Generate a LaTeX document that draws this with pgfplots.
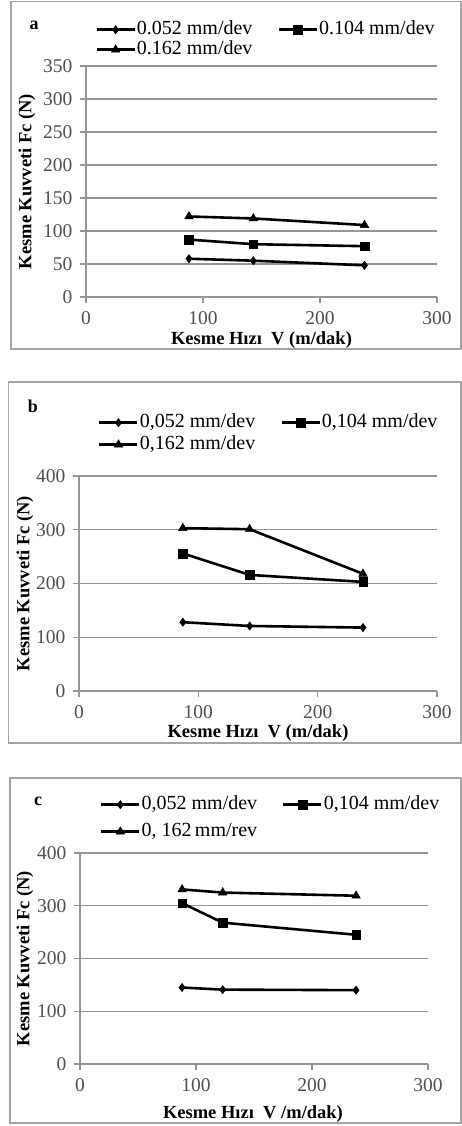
\documentclass[border=0pt]{standalone}
\usepackage{fontspec}
\setmainfont{Liberation Serif}
\usepackage{pgfplots}
\pgfplotsset{compat=1.18}

\definecolor{gridgray}{RGB}{150,150,150}
\definecolor{ticktext}{RGB}{80,80,80}
\definecolor{framegray}{RGB}{165,165,165}

\pgfplotsset{
  panel/.style={
    scale only axis,
    xmin=0, xmax=300, ymin=0,
    xtick={0,100,200,300},
    axis x line*=bottom, axis y line*=left,
    axis line style={gridgray, line width=1.4pt},
    ymajorgrids, grid style={gridgray, line width=1.4pt},
    major tick style={gridgray, line width=1.2pt},
    tick align=outside, major tick length=6pt,
    ticklabel style={font=\fontsize{19.5}{19.5}\selectfont, text=ticktext},
    xticklabel style={yshift=-5pt},
    yticklabel style={xshift=-4pt},
    /pgf/number format/assume math mode=true,
    label style={font=\bfseries\fontsize{18.5}{18.5}\selectfont},
    legend columns=2,
    legend cell align=left,
    legend style={draw=none, fill=none, anchor=north west, inner sep=0pt,
      font=\fontsize{20}{20}\selectfont,
      nodes={inner xsep=1pt, inner ysep=0pt, text height=14pt, text depth=5pt},
      /tikz/every even column/.append style={column sep=24pt}},
    legend image code/.code={\draw[mark repeat=2,mark phase=2,##1] plot coordinates {(0pt,0pt) (19pt,0pt) (38pt,0pt)};},
  },
  sa/.style={black, line width=2.6pt, mark=diamond*, mark size=4.2pt, mark options={solid, line width=0.4pt}},
  sb/.style={black, line width=2.6pt, mark=square*, mark size=4.3pt, mark options={solid, line width=0.4pt}},
  sc/.style={black, line width=2.6pt, mark=triangle*, mark size=5pt, mark options={solid, line width=0.4pt}},
}

\begin{document}
\begin{tikzpicture}
\path[use as bounding box] (0pt,0pt) rectangle (462pt,-1126pt);
\draw[framegray, line width=1.2pt] (11pt,-1.5pt) rectangle (461pt,-349pt);
\draw[framegray, line width=1.2pt] (8.5pt,-382pt) rectangle (461pt,-743pt);
\draw[framegray, line width=1.2pt] (10pt,-778pt) rectangle (461pt,-1123pt);

% ---------- panel a ----------
\begin{axis}[panel, at={(86pt,-297pt)}, anchor=south west,
  width=351pt, height=231pt, ymax=350, ytick={0,50,...,350},
  xlabel={Kesme Hızı~ V (m/dak)}, ylabel={Kesme Kuvveti Fc (N)},
  xlabel style={at={(axis description cs:0.5,-0.185)}, anchor=center},
  ylabel style={at={(axis description cs:-0.168,0.5)}, anchor=center},
  legend style={at={(axis description cs:0.026,1.199)}, row sep=1pt}]
\addplot[sa] coordinates {(88,58) (143,55) (238,48)};
\addlegendentry{0.052 mm/dev}
\addplot[sb] coordinates {(88,87) (143,80) (238,77)};
\addlegendentry{0.104 mm/dev}
\addplot[sc] coordinates {(88,122) (143,119) (238,109)};
\addlegendentry{0.162 mm/dev}
\end{axis}
\node[font=\bfseries\fontsize{18}{18}\selectfont] at (34pt,-25pt) {a};

% ---------- panel b ----------
\begin{axis}[panel, at={(79pt,-691pt)}, anchor=south west,
  width=358pt, height=215pt, ymax=400, ytick={0,100,...,400},
  xlabel={Kesme Hızı~ V (m/dak)}, ylabel={Kesme Kuvveti Fc (N)},
  xlabel style={at={(axis description cs:0.5,-0.196)}, anchor=center},
  ylabel style={at={(axis description cs:-0.151,0.5)}, anchor=center},
  legend style={at={(axis description cs:0.053,1.293)}, row sep=3pt}]
\addplot[sa] coordinates {(87,128) (143,121) (238,118)};
\addlegendentry{0,052 mm/dev}
\addplot[sb] coordinates {(87,256) (143,216) (238,203)};
\addlegendentry{0,104 mm/dev}
\addplot[sc] coordinates {(87,303) (143,301) (238,218)};
\addlegendentry{0,162 mm/dev}
\end{axis}
\node[font=\bfseries\fontsize{18}{18}\selectfont] at (33pt,-406pt) {b};

% ---------- panel c ----------
\begin{axis}[panel, at={(80pt,-1064pt)}, anchor=south west,
  width=348pt, height=211pt, ymax=400, ytick={0,100,...,400},
  xlabel={Kesme Hızı~ V /m/dak)}, ylabel={Kesme Kuvveti Fc (N)},
  xlabel style={at={(axis description cs:0.497,-0.235)}, anchor=center},
  ylabel style={at={(axis description cs:-0.158,0.5)}, anchor=center},
  legend style={at={(axis description cs:0.057,1.275)}, row sep=8pt}]
\addplot[sa] coordinates {(88,145) (123,141) (238,140)};
\addlegendentry{0,052 mm/dev}
\addplot[sb] coordinates {(88,305) (123,268) (238,245)};
\addlegendentry{0,104 mm/dev}
\addplot[sc] coordinates {(88,331) (123,325) (238,319)};
\addlegendentry{0, 162\,mm/rev}
\end{axis}
\node[font=\bfseries\fontsize{18}{18}\selectfont] at (38pt,-801pt) {c};
\end{tikzpicture}
\end{document}
